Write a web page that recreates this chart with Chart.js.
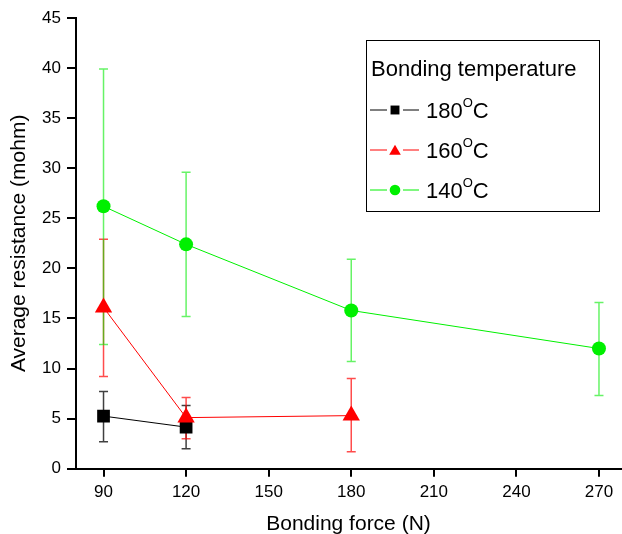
<!DOCTYPE html>
<html>
<head>
<meta charset="utf-8">
<script src="https://cdn.jsdelivr.net/npm/chart.js@4.4.1/dist/chart.umd.min.js"></script>
<style>
  html, body { margin: 0; padding: 0; background: #fff; }
  canvas { display: block; }
</style>
</head>
<body>
<canvas id="chart" width="622" height="534"></canvas>
<script>
// Bonding force vs. average resistance, per bonding temperature

const forceTicks = [90, 120, 150, 180, 210, 240, 270];

const force180 = [90, 120];
const mean180 = [5.25, 4.15];
const low180 = [2.7, 2.0];
const high180 = [7.7, 6.3];

const force160 = [90, 120, 180];
const mean160 = [16.1, 5.1, 5.3];
const low160 = [9.2, 3.0, 1.7];
const high160 = [22.9, 7.1, 9.0];

const force140 = [90, 120, 180, 270];
const mean140 = [26.2, 22.4, 15.8, 12.0];
const low140 = [12.4, 15.2, 10.7, 7.3];
const high140 = [39.9, 29.6, 20.9, 16.6];

const FONT = "'Liberation Sans', Arial, Helvetica, sans-serif";

function points(xs, ys) {
  return xs.map((x, i) => ({ x: x, y: ys[i] }));
}

const series = [
  { label: '180', color: '#000000', bar: 'rgba(0,0,0,0.75)', style: 'rect', radius: 9, order: 2,
    xs: force180, ys: mean180, lo: low180, hi: high180 },
  { label: '160', color: '#ff0000', bar: 'rgba(255,0,0,0.7)', style: 'triangle', radius: 10, order: 0,
    xs: force160, ys: mean160, lo: low160, hi: high160 },
  { label: '140', color: '#00f000', bar: 'rgba(0,235,0,0.6)', style: 'circle', radius: 7, order: 1,
    xs: force140, ys: mean140, lo: low140, hi: high140 }
];

// error bars under the markers
const errorBars = {
  id: 'errorBars',
  beforeDatasetsDraw(chart) {
    const { ctx, scales: { x, y } } = chart;
    ctx.save();
    ctx.lineWidth = 1.5;
    series.forEach(s => {
      ctx.strokeStyle = s.bar;
      s.xs.forEach((f, i) => {
        const px = x.getPixelForValue(f);
        const top = y.getPixelForValue(s.hi[i]);
        const bot = y.getPixelForValue(s.lo[i]);
        ctx.beginPath();
        ctx.moveTo(px, top); ctx.lineTo(px, bot);
        ctx.moveTo(px - 4.5, top); ctx.lineTo(px + 4.5, top);
        ctx.moveTo(px - 4.5, bot); ctx.lineTo(px + 4.5, bot);
        ctx.stroke();
      });
    });
    ctx.restore();
  }
};

// boxed legend with superscript degree "O"
const boxLegend = {
  id: 'boxLegend',
  afterDraw(chart) {
    const ctx = chart.ctx;
    const bx = 366, by = 40, bw = 233, bh = 171;
    ctx.save();
    ctx.strokeStyle = '#000';
    ctx.lineWidth = 1;
    ctx.strokeRect(bx + 0.5, by + 0.5, bw, bh);

    ctx.fillStyle = '#000';
    ctx.textBaseline = 'alphabetic';
    ctx.font = '22px ' + FONT;
    ctx.fillText('Bonding temperature', 371, 76);

    series.forEach((s, i) => {
      const cy = 110 + i * 40;
      ctx.strokeStyle = s.color;
      ctx.fillStyle = s.color;
      ctx.lineWidth = 1;
      ctx.beginPath();
      ctx.moveTo(370, cy); ctx.lineTo(387, cy);
      ctx.moveTo(403, cy); ctx.lineTo(419, cy);
      ctx.stroke();
      const r = s.style === 'circle' ? 5.3 : (s.style === 'triangle' ? 6.7 : 6.3);
      Chart.helpers.drawPoint(ctx, { pointStyle: s.style, radius: r, borderWidth: 0 }, 395, cy + (s.style === 'triangle' ? 1.5 : 0));

      ctx.fillStyle = '#000';
      ctx.font = '22px ' + FONT;
      let tx = 426;
      const base = cy + 8;
      ctx.fillText(s.label, tx, base);
      tx += ctx.measureText(s.label).width;
      ctx.font = '13px ' + FONT;
      ctx.fillText('O', tx, base - 11.5);
      tx += ctx.measureText('O').width;
      ctx.font = '22px ' + FONT;
      ctx.fillText('C', tx, base);
    });
    ctx.restore();
  }
};

new Chart(document.getElementById('chart'), {
  type: 'line',
  data: {
    datasets: series.map(s => ({
      label: s.label,
      data: points(s.xs, s.ys),
      borderColor: s.color,
      backgroundColor: s.color,
      borderWidth: 1,
      pointStyle: s.style,
      pointRadius: s.radius,
      pointHoverRadius: s.radius,
      pointBorderWidth: 0,
      order: s.order,
      tension: 0
    }))
  },
  options: {
    responsive: false,
    animation: false,
    events: [],
    layout: { autoPadding: false, padding: { top: 18, right: 1, left: 0, bottom: 0 } },
    plugins: { legend: { display: false }, tooltip: { enabled: false } },
    scales: {
      x: {
        type: 'linear',
        min: 80,
        max: 278,
        afterBuildTicks: s => { s.ticks = forceTicks.map(v => ({ value: v })); },
        afterFit: s => { s.height = 65.3; s.paddingLeft = 0; s.paddingRight = 0; },
        ticks: { color: '#000', font: { size: 17, family: FONT }, padding: 5, maxRotation: 0 },
        grid: { drawOnChartArea: false, drawTicks: true, tickLength: 8, color: '#000', lineWidth: 2 },
        border: { display: true, color: '#000', width: 2 },
        title: { display: true, text: 'Bonding force (N)', color: '#000', font: { size: 21, family: FONT, lineHeight: 0.9 }, padding: { top: 0, bottom: 0 } }
      },
      y: {
        min: 0,
        max: 45,
        afterFit: s => { s.width = 76; },
        ticks: { stepSize: 5, color: '#000', font: { size: 17, family: FONT }, padding: 6 },
        grid: { drawOnChartArea: false, drawTicks: true, tickLength: 9, color: '#000', lineWidth: 2 },
        border: { display: true, color: '#000', width: 2 },
        title: { display: true, text: 'Average resistance (mohm)', color: '#000', font: { size: 21, family: FONT, lineHeight: 1.2 }, padding: { top: 7, bottom: 0 } }
      }
    }
  },
  plugins: [errorBars, boxLegend]
});
</script>
</body>
</html>
